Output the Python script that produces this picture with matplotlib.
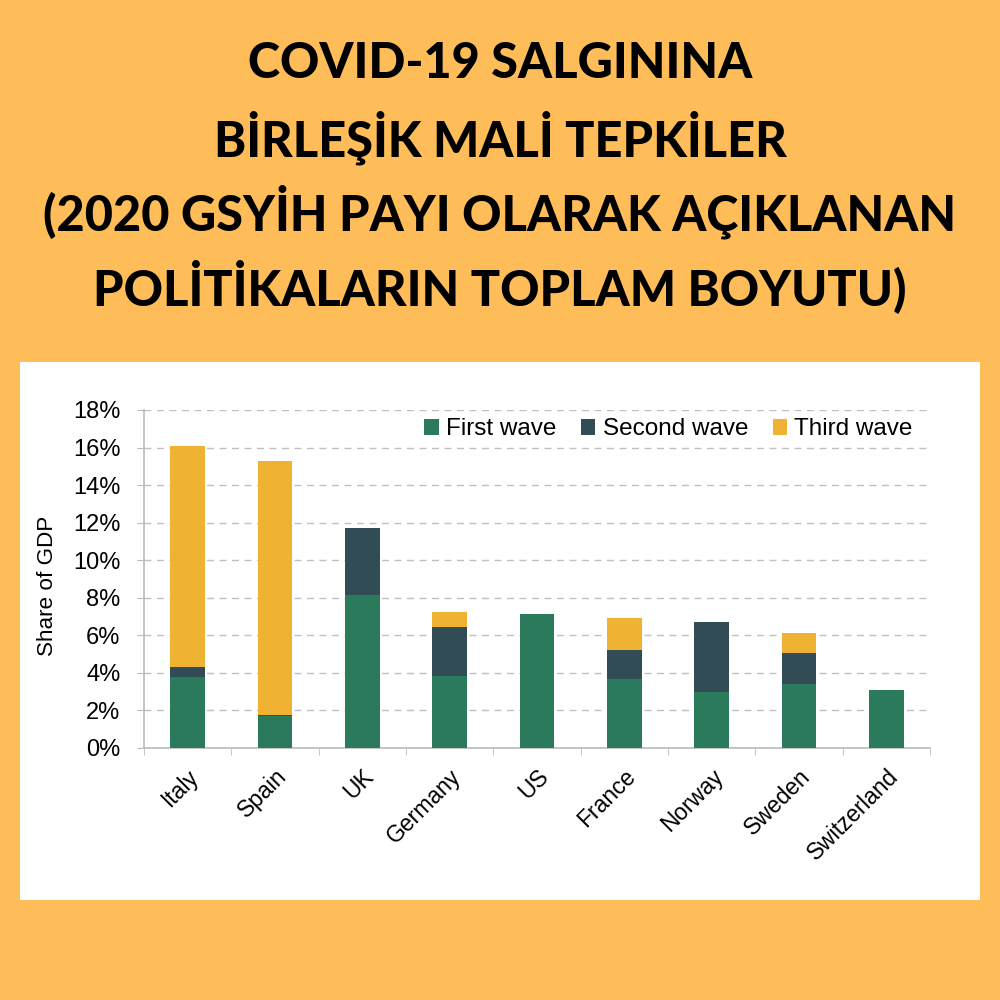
import numpy as np
import matplotlib
matplotlib.use('Agg')
import matplotlib.pyplot as plt

# DATA
#===============================================================================
countries = ['Italy', 'Spain', 'UK', 'Germany', 'US', 'France', 'Norway', 'Sweden', 'Switzerland']
first_wave = [3.78, 1.70, 8.16, 3.83, 7.14, 3.66, 2.98, 3.41, 3.09]
second_wave = [0.53, 0.08, 3.55, 2.60, 0.0, 1.56, 3.71, 1.65, 0.0]
third_wave = [11.79, 13.50, 0.0, 0.81, 0.0, 1.68, 0.0, 1.06, 0.0]
series_names = ['First wave', 'Second wave', 'Third wave']
yticks = [0, 2, 4, 6, 8, 10, 12, 14, 16, 18]
title_lines = ['COVID-19 SALGININA', 'B\u0130RLE\u015e\u0130K MAL\u0130 TEPK\u0130LER',
               '(2020 GSY\u0130H PAYI OLARAK A\u00c7IKLANAN', 'POL\u0130T\u0130KALARIN TOPLAM BOYUTU)']
#===============================================================================

colors = ['#2a7a5b', '#314c55', '#f0b232']
bg = '#ffbd59'
font = 'Liberation Sans'

fig = plt.figure(figsize=(10, 10), dpi=100)
fig.patch.set_facecolor(bg)

# white panel behind the chart
panel = fig.add_axes([0.020, 0.100, 0.960, 0.538])
panel.set_facecolor('white')
panel.set_xticks([])
panel.set_yticks([])
for s in panel.spines.values():
    s.set_visible(False)

title_y = [0.936, 0.862, 0.788, 0.713]
for line, y in zip(title_lines, title_y):
    fig.text(0.5, y, line, ha='center', va='center', fontsize=35,
             fontfamily='Lato', fontweight='black', color='black')

ax = fig.add_axes([0.144, 0.252, 0.786, 0.338])
ax.patch.set_alpha(0)
x = np.arange(len(countries))
bottom = np.zeros(len(countries))
for vals, name, c in zip([first_wave, second_wave, third_wave], series_names, colors):
    ax.bar(x, vals, width=0.4, bottom=bottom, color=c, label=name, zorder=3)
    bottom += np.array(vals)

ax.set_xlim(-0.5, len(countries) - 0.5)
ax.set_ylim(0, 18)
ax.set_yticks(yticks)
ax.set_yticklabels(['{}%'.format(t) for t in yticks], fontfamily=font, fontsize=17)
ax.set_xticks(x)
ax.set_xticklabels(countries, rotation=45, ha='right', rotation_mode='anchor',
                   fontfamily=font, fontsize=16.5)
ax.set_xticks(np.arange(-0.5, len(countries)), minor=True)
ax.tick_params(axis='x', which='major', length=0, pad=12)
ax.tick_params(axis='x', which='minor', length=5, color='#bbbbbb', direction='out')
ax.tick_params(axis='y', length=5, color='#bbbbbb', pad=12)
ax.set_ylabel('Share of GDP', fontfamily=font, fontsize=16.2)
ax.yaxis.set_label_coords(-0.11, 0.48)

ax.grid(axis='y', linestyle=(0, (5, 4)), color='#c0c0c0', linewidth=1.0, zorder=0)
for s in ['top', 'right']:
    ax.spines[s].set_visible(False)
for s in ['left', 'bottom']:
    ax.spines[s].set_color('#bbbbbb')
    ax.spines[s].set_linewidth(1.2)

leg = ax.legend(loc='upper right', ncol=3, frameon=False, handlelength=0.6, handleheight=0.6,
                handletextpad=0.3, columnspacing=1.0, bbox_to_anchor=(1.006, 1.04),
                prop={'family': font, 'size': 17.5})

plt.savefig('out.png', dpi=100, facecolor=bg)
